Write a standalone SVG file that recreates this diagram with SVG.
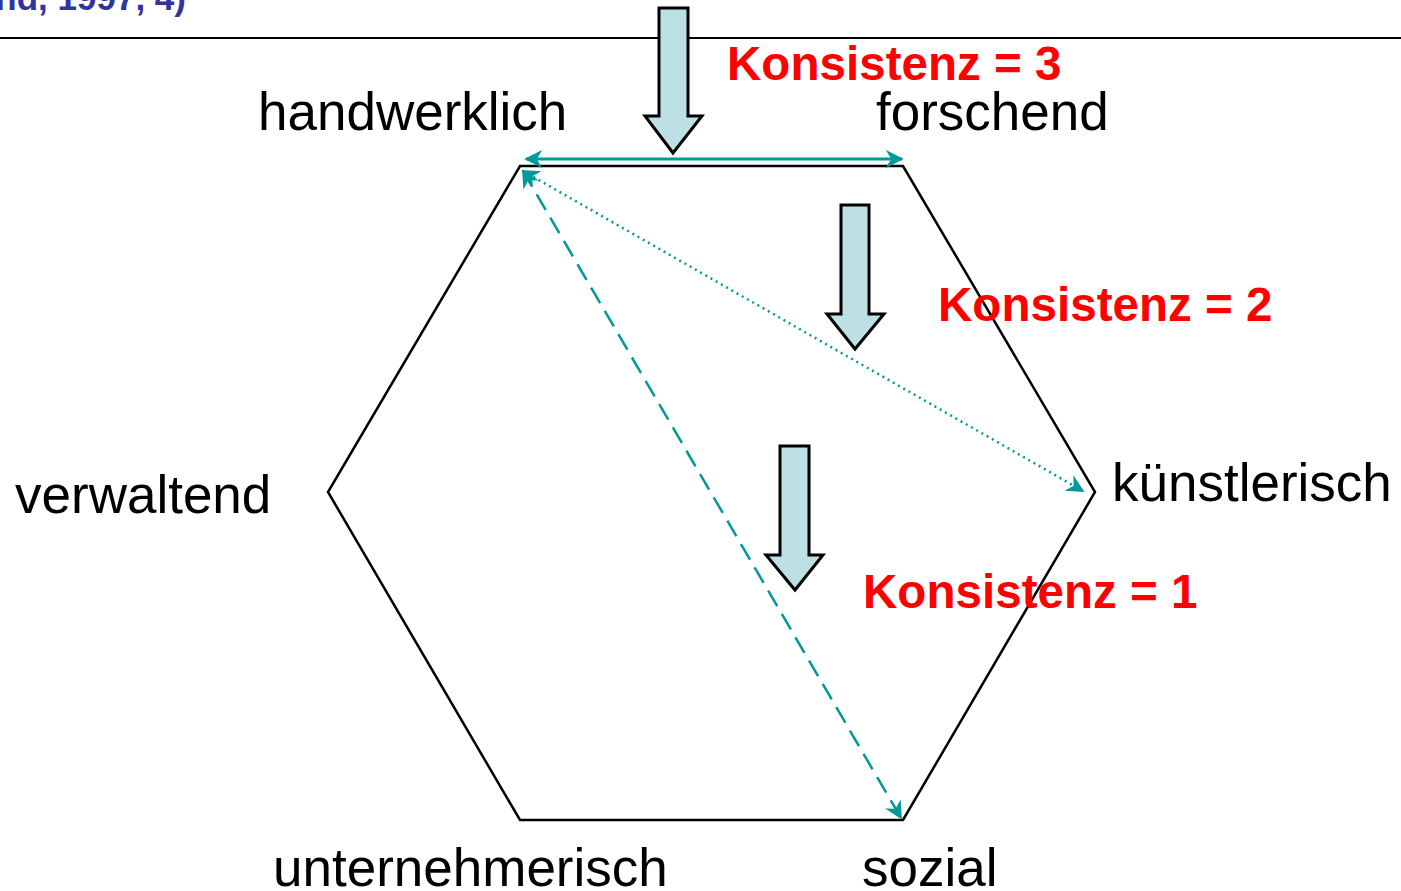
<svg xmlns="http://www.w3.org/2000/svg" width="1401" height="891" viewBox="0 0 1401 891">
<defs>
<style>
.lbl{font-family:"Liberation Sans",Arial,sans-serif;font-size:53px;fill:#000}
.kon{font-family:"Liberation Sans",Arial,sans-serif;font-size:47.6px;font-weight:bold;fill:#ff0000}
.conn{stroke:#009999;fill:none}
.big{fill:#bce0e3;stroke:#000;stroke-width:3;stroke-linejoin:miter}
</style>
<marker id="ah2" viewBox="0 0 10 10" refX="9" refY="5" markerWidth="18" markerHeight="18" markerUnits="userSpaceOnUse" orient="auto-start-reverse">
<path d="M0,0 L10,5 L0,10 L3,5 Z" fill="#009999"/>
</marker>
</defs>
<rect width="1401" height="891" fill="#fff"/>
<text x="186" y="10" font-family="'Liberation Sans',Arial,sans-serif" font-size="35" font-weight="bold" fill="#333399" text-anchor="end">(Holland, 1997, 4)</text>
<line x1="0" y1="38" x2="1401" y2="38" stroke="#000" stroke-width="2"/>
<g id="hexagon">
<polygon points="520,166 903,166 1095,492 903,820 520,820 328,492" fill="none" stroke="#000" stroke-width="2.5"/>
</g>
<g id="connectors">
<line class="conn" x1="526" y1="159" x2="902" y2="159" stroke-width="3" marker-start="url(#ah2)" marker-end="url(#ah2)"/>
<line class="conn" x1="523" y1="171" x2="1083" y2="491" stroke-width="2.5" stroke-dasharray="2,4" marker-start="url(#ah2)" marker-end="url(#ah2)"/>
<line class="conn" x1="523" y1="171" x2="901" y2="818" stroke-width="2.5" stroke-dasharray="18,9" marker-start="url(#ah2)" marker-end="url(#ah2)"/>
</g>
<g id="arrow3top">
<polygon class="big" points="659,8 688,8 688,116 702,116 673,153 645,116 659,116"/>
</g>
<g id="arrow2">
<polygon class="big" points="841,205 869,205 869,314 884,314 855,349 827,314 841,314"/>
</g>
<g id="arrow1">
<polygon class="big" points="780,446 809,446 809,555 823,555 795,590 766,555 780,555"/>
</g>
<g id="n-handwerklich"><text class="lbl" x="258" y="130">handwerklich</text></g>
<g id="n-forschend"><text class="lbl" x="876" y="130">forschend</text></g>
<g id="n-kuenstlerisch"><text class="lbl" x="1112" y="501">künstlerisch</text></g>
<g id="n-verwaltend"><text class="lbl" x="15" y="513">verwaltend</text></g>
<g id="n-unternehmerisch"><text class="lbl" x="273" y="886">unternehmerisch</text></g>
<g id="n-sozial"><text class="lbl" x="862" y="886">sozial</text></g>
<g id="k3"><text class="kon" x="727" y="80">Konsistenz = 3</text></g>
<g id="k2"><text class="kon" x="938" y="321">Konsistenz = 2</text></g>
<g id="k1"><text class="kon" x="863" y="608">Konsistenz = 1</text></g>
</svg>
